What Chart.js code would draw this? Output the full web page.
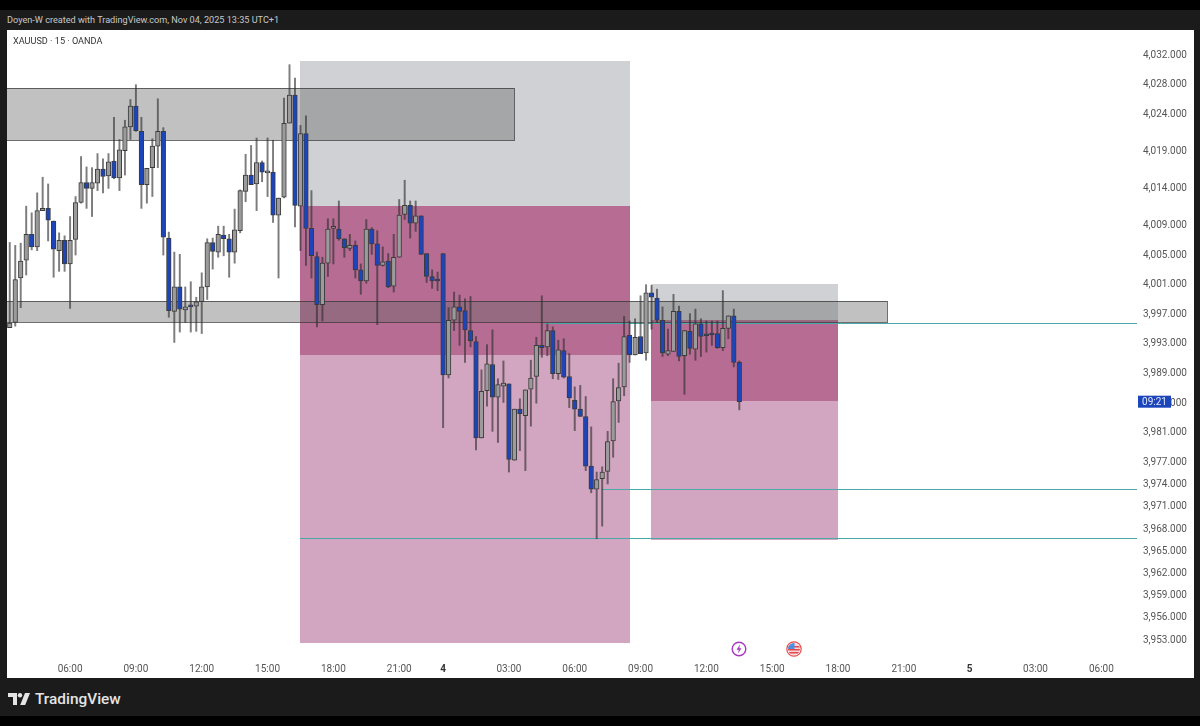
<!DOCTYPE html>
<html>
<head>
<meta charset="utf-8">
<title>XAUUSD 15</title>
<script src="https://cdn.jsdelivr.net/npm/chart.js@4/dist/chart.umd.min.js"></script>
<style>
  html, body { margin: 0; padding: 0; width: 1200px; height: 726px; overflow: hidden; background: #1b1b1b; font-family: Roboto, "Noto Sans", sans-serif; }
  #topstrip { position: absolute; left: 0; top: 0; width: 1200px; height: 10px; background: #000; }
  #bottomstrip { position: absolute; left: 0; top: 716px; width: 1200px; height: 10px; background: #000; }
  #credit { position: absolute; left: 7px; top: 14px; font-size: 9.15px; line-height: 13px; color: #c8c8c8; white-space: nowrap; }
  #pane { position: absolute; left: 7px; top: 30px; width: 1187px; height: 648px; background: #fff; overflow: hidden; }
  #chart { position: absolute; left: 0; top: -11px; }
  #symbol { position: absolute; left: 13px; top: 35px; font-size: 9.15px; line-height: 13px; color: #333; white-space: nowrap; }
  #brand { position: absolute; left: 35px; top: 689px; font-size: 15.4px; line-height: 20px; font-weight: 500; color: #e4e4e4; white-space: nowrap; }
  #logo { position: absolute; left: 8px; top: 692px; }
  .marker { position: absolute; top: 641px; }
</style>
</head>
<body>
<div id="topstrip"></div>
<div id="bottomstrip"></div>
<div id="credit">Doyen-W created with TradingView.com, Nov 04, 2025 13:35 UTC+1</div>
<div id="pane"><canvas id="chart" width="1187" height="659"></canvas></div>
<div id="symbol">XAUUSD · 15 · OANDA</div>
<svg id="logo" width="22" height="14" viewBox="0 0 22 14">
  <path d="M0 1h9v12H5V5H0z" fill="#e4e4e4"/>
  <circle cx="12" cy="3.2" r="2.2" fill="#e4e4e4"/>
  <path d="M17 1h5l-4.8 12h-5z" fill="#e4e4e4"/>
</svg>
<div id="brand">TradingView</div>
<svg class="marker" style="left:731px" width="16" height="16" viewBox="0 0 16 16">
  <circle cx="8" cy="8" r="6.8" fill="#fff" stroke="#a63bc0" stroke-width="1.4"/>
  <path d="M9 3.5 5.5 8.8h2.2L7 12.5l3.5-5.3H8.3z" fill="#a63bc0"/>
</svg>
<svg class="marker" style="left:786px" width="16" height="16" viewBox="0 0 16 16">
  <clipPath id="flagclip"><circle cx="8" cy="8" r="6"/></clipPath>
  <circle cx="8" cy="8" r="7.2" fill="#fff" stroke="#e5484d" stroke-width="1.2"/>
  <g clip-path="url(#flagclip)">
    <rect x="0" y="2" width="16" height="12" fill="#f7d5d6"/>
    <rect x="0" y="5" width="16" height="1.5" fill="#e5484d"/>
    <rect x="0" y="8" width="16" height="1.5" fill="#e5484d"/>
    <rect x="0" y="11" width="16" height="1.5" fill="#e5484d"/>
    <rect x="2" y="2" width="6.5" height="6" fill="#4c8fe0"/>
  </g>
</svg>
<script>
const opens = [3995.2,3995.9,4001.9,4004.3,4007.8,4006.1,4011.0,4011.3,4009.6,4005.6,4007.0,4003.8,4007.1,4012.1,4014.8,4014.0,4014.7,4016.6,4015.7,4017.7,
  4015.4,4019.1,4022.3,4025.1,4021.7,4014.5,4016.8,4019.7,4021.7,4007.3,3997.4,4000.7,3997.6,3998.1,3998.1,3998.7,4000.7,4006.7,4005.4,4007.7,
  4007.2,4005.4,4008.3,4013.6,4015.8,4014.6,4017.5,4016.1,4016.2,4010.4,4012.8,4022.8,4026.6,4011.6,4021.4,4008.6,4004.8,3998.3,4003.9,4008.6,
  4008.5,4007.2,4005.9,4006.3,4003.0,4001.5,4008.5,4006.5,4003.6,4004.2,4000.8,4004.7,4010.5,4011.7,4009.3,4010.3,4005.2,4002.1,4001.6,4005.2,
  3988.8,3996.2,3998.0,3997.5,3994.8,3993.3,3980.3,3986.7,3990.2,3985.8,3987.3,3987.6,3977.3,3984.2,3983.3,3986.9,3988.6,3992.8,3992.6,3994.8,
  3989.0,3992.1,3988.6,3985.4,3984.2,3983.2,3976.5,3973.4,3974.8,3975.8,3979.9,3985.3,3987.2,3994.2,3991.5,3994.0,3991.8,3999.9,3999.2,3996.2,
  3991.6,3992.0,3997.4,3991.4,3994.7,3992.3,3995.7,3994.3,3994.3,3994.4,3992.5,3995.1,3996.8,3990.5];
const closes = [3995.8,4001.7,4004.2,4007.8,4006.1,4011.0,4011.3,4009.7,4005.8,4007.0,4003.8,4007.0,4012.1,4014.8,4014.0,4014.8,4016.6,4015.6,4017.6,4015.4,
  4019.2,4022.3,4025.1,4021.8,4014.5,4016.7,4019.7,4021.7,4007.4,3997.5,4000.7,3997.7,3998.0,3998.0,3998.7,4000.7,4006.7,4005.5,4007.8,4007.2,
  4005.4,4008.4,4013.7,4015.8,4014.5,4017.5,4016.2,4016.2,4010.4,4012.7,4022.8,4026.6,4011.7,4021.4,4008.6,4004.9,3998.3,4003.9,4008.5,4008.7,
  4007.2,4006.0,4006.3,4003.0,4001.5,4008.5,4006.5,4003.6,4004.1,4000.7,4004.7,4010.4,4011.7,4009.3,4010.3,4005.1,4002.1,4001.5,4001.5,3988.8,
  3996.2,3998.0,3997.4,3994.9,3993.4,3980.3,3986.6,3990.3,3985.8,3987.5,3987.7,3977.4,3984.2,3983.6,3986.8,3988.4,3992.8,3992.5,3994.8,3989.0,
  3992.2,3988.5,3985.7,3984.2,3983.2,3976.5,3973.4,3974.7,3975.7,3979.8,3985.2,3987.1,3994.0,3991.5,3993.9,3991.7,3999.9,3999.3,3996.2,3991.8,
  3992.1,3997.4,3991.3,3994.8,3992.4,3995.7,3994.0,3994.1,3994.2,3992.5,3995.1,3996.8,3990.5,3985.2];
const highs = [4006.7,4006.3,4006.6,4011.6,4010.7,4013.4,4015.5,4014.6,4009.6,4008.0,4007.6,4010.2,4012.9,4018.3,4016.9,4016.8,4018.7,4018.0,4018.7,4023.6,
  4020.6,4023.2,4026.0,4028.0,4023.6,4016.7,4020.7,4026.1,4022.2,4008.1,4005.4,4005.1,4000.7,4001.4,3999.3,4002.6,4007.2,4007.3,4008.9,4008.9,
  4007.8,4011.2,4013.8,4018.6,4019.8,4020.8,4017.7,4020.8,4020.5,4012.7,4026.2,4030.7,4028.9,4022.5,4023.8,4013.7,4005.4,4004.7,4009.9,4009.9,
  4012.3,4007.2,4007.8,4006.9,4003.8,4009.8,4008.7,4008.3,4006.1,4005.2,4007.8,4012.5,4015.1,4012.3,4012.3,4010.3,4005.2,4003.0,4002.7,4005.2,
  3997.9,4000.0,3999.6,3999.1,3999.4,3994.0,3989.5,3992.9,3994.9,3988.3,3990.7,3987.6,3984.2,3985.6,3986.8,3990.8,3993.9,3999.5,3995.7,3995.3,
  3993.5,3993.7,3991.7,3987.2,3987.4,3985.9,3981.8,3975.7,3976.4,3981.2,3988.3,3990.4,3996.7,3996.1,3996.4,3999.5,4001.0,4000.9,4000.4,3998.0,
  3995.0,3999.7,3998.1,3994.8,3997.1,3997.7,3996.4,3996.1,3996.1,3996.1,4000.2,3996.8,3997.7,3990.7];
const lows = [3995.2,3995.4,3997.9,4002.3,4005.7,4005.6,4011.0,4006.9,4002.0,4002.8,4002.8,3997.8,4005.0,4012.0,4011.3,4010.2,4013.7,4013.4,4014.0,4015.3,
  4013.7,4015.8,4020.6,4021.7,4011.3,4012.0,4012.9,4016.8,4005.0,3996.6,3993.2,3994.6,3995.9,3994.6,3994.7,3994.4,3999.0,4003.1,4004.7,4004.9,
  4002.0,4003.9,4008.0,4012.2,4014.5,4011.0,4014.9,4012.9,4009.4,4001.9,4012.7,4022.8,4008.8,4005.6,4003.6,4001.9,3995.3,3996.1,4002.1,4003.8,
  4007.0,4004.7,4005.6,4001.9,3999.7,4001.2,4005.1,3995.6,4003.5,4000.6,4000.0,4004.7,4009.8,4007.3,4008.2,4005.1,4001.3,4000.5,4000.2,3981.7,
  3988.4,3994.8,3992.8,3990.5,3992.6,3978.7,3980.3,3984.6,3981.2,3979.7,3985.1,3975.7,3977.3,3978.6,3975.9,3981.9,3985.0,3991.2,3991.4,3988.3,
  3988.2,3988.4,3984.4,3981.3,3983.2,3975.9,3972.9,3966.7,3968.4,3974.1,3977.7,3982.4,3986.0,3990.5,3991.5,3991.7,3990.8,3995.0,3995.9,3991.3,
  3991.4,3992.0,3990.7,3986.2,3991.6,3990.8,3991.3,3991.9,3992.8,3992.4,3992.1,3993.7,3989.9,3984.1];

const priceTicks = [4032,4028,4024,4019,4014,4009,4005,4001,3997,3993,3989,3985,3981,3977,3974,3971,3968,3965,3962,3959,3956,3953];
const timeSlots = [11,23,35,47,59,71,79,91,103,115,127,139,151,163,175,187,199];
const timeLabels = ['06:00','09:00','12:00','15:00','18:00','21:00','4','03:00','06:00','09:00','12:00','15:00','18:00','21:00','5','03:00','06:00'];

// zones: first bar, last bar, upper price, lower price
const stopZones = [[52.9,113.1,4031.2,4011.6],[116.9,151.0,4001.1,3996.2]];
const entryZones = [[52.9,113.1,4011.6,3991.5],[116.9,151.0,3996.2,3985.3]];
const targetZones = [[52.9,113.1,3991.5,3952.6],[116.9,151.0,3985.3,3966.6]];
const supplyBoxes = [[-1,91.95,4027.5,4020.5],[-1,160,3998.85,3996.0]];
// levels: first bar, price
const levelLines = [[97.5,3995.85],[107.9,3973.4],[52.9,3966.8]];
const countdownText = '09:21';

const BAR_SLOTS = 206;
const COLORS = {
  up: '#9b9b9b',
  down: '#1c45ba',
  border: '#3c3c3c',
  wick: 'rgba(45,45,45,0.62)',
  stop: '#d0d1d5',
  entry: '#b66c93',
  target: '#d2a5c0',
  box: 'rgba(105,105,105,0.41)',
  boxLine: 'rgba(50,50,50,0.7)',
  level: '#4aa8a8',
  axisText: '#555'
};

document.addEventListener('DOMContentLoaded', () => {
  const slots = Array.from({ length: BAR_SLOTS }, (_, i) => String(i));

  const zonesPlugin = {
    id: 'zones',
    beforeDatasetsDraw(chart) {
      const { ctx, chartArea, scales: { x, y } } = chart;

      function rect(zone) {
        const left = x.getPixelForValue(zone[0]);
        const right = x.getPixelForValue(zone[1]);
        const top = y.getPixelForValue(zone[2]);
        const bottom = y.getPixelForValue(zone[3]);
        return [Math.round(left), Math.round(top), Math.round(right - left), Math.round(bottom - top)];
      }

      ctx.save();
      ctx.beginPath();
      ctx.rect(chartArea.left, chartArea.top, chartArea.right - chartArea.left, chartArea.bottom - chartArea.top);
      ctx.clip();

      ctx.fillStyle = COLORS.stop;
      stopZones.forEach((z) => ctx.fillRect(...rect(z)));
      ctx.fillStyle = COLORS.entry;
      entryZones.forEach((z) => ctx.fillRect(...rect(z)));
      ctx.fillStyle = COLORS.target;
      targetZones.forEach((z) => ctx.fillRect(...rect(z)));

      ctx.fillStyle = COLORS.box;
      ctx.strokeStyle = COLORS.boxLine;
      ctx.lineWidth = 1;
      supplyBoxes.forEach((z) => {
        const [l, t, w, h] = rect(z);
        ctx.fillRect(l, t, w, h);
        ctx.strokeRect(l + 0.5, t + 0.5, w, h);
      });

      ctx.strokeStyle = COLORS.level;
      levelLines.forEach((l) => {
        const py = Math.round(y.getPixelForValue(l[1])) + 0.5;
        ctx.beginPath();
        ctx.moveTo(x.getPixelForValue(l[0]), py);
        ctx.lineTo(chartArea.right, py);
        ctx.stroke();
      });
      ctx.restore();
    }
  };

  const countdownPlugin = {
    id: 'countdown',
    afterDraw(chart) {
      const { ctx, chartArea, scales: { y } } = chart;
      const py = y.getPixelForValue(closes[closes.length - 1]);
      ctx.save();
      ctx.fillStyle = '#1c45ba';
      ctx.fillRect(chartArea.right + 1, py - 6, 33, 12);
      ctx.fillStyle = '#dfe6fb';
      ctx.font = '10px Roboto, "Noto Sans", sans-serif';
      ctx.textAlign = 'center';
      ctx.textBaseline = 'middle';
      ctx.fillText(countdownText, chartArea.right + 17.5, py + 0.5);
      ctx.restore();
    }
  };

  new Chart(document.getElementById('chart'), {
    data: {
      labels: slots,
      datasets: [
        {
          type: 'bar',
          label: 'body',
          order: 1,
          grouped: false,
          data: opens.map((open, i) => [open, closes[i]]),
          backgroundColor: opens.map((open, i) => (closes[i] >= open ? COLORS.up : COLORS.down)),
          borderColor: COLORS.border,
          borderWidth: 1,
          borderSkipped: false,
          barThickness: 4.6,
          minBarLength: 2
        },
        {
          type: 'bar',
          label: 'wick',
          order: 2,
          grouped: false,
          data: lows.map((low, i) => [low, highs[i]]),
          backgroundColor: COLORS.wick,
          borderWidth: 0,
          barThickness: 1.3
        }
      ]
    },
    options: {
      responsive: false,
      animation: false,
      layout: { padding: 0, autoPadding: false },
      plugins: { legend: { display: false }, tooltip: { enabled: false } },
      scales: {
        x: {
          type: 'category',
          offset: true,
          grid: { display: false, drawTicks: false },
          border: { display: false },
          afterFit: (scale) => { scale.height = 23; },
          afterBuildTicks: (scale) => {
            scale.ticks = timeSlots.map((value) => ({ value }));
          },
          ticks: {
            autoSkip: false,
            maxRotation: 0,
            padding: 8,
            color: (ctx) => (timeLabels[ctx.index] && timeLabels[ctx.index].length === 1 ? '#333' : COLORS.axisText),
            font: (ctx) => ({
              family: 'Roboto, "Noto Sans", sans-serif',
              size: 10,
              weight: timeLabels[ctx.index] && timeLabels[ctx.index].length === 1 ? 'bold' : 'normal'
            }),
            callback: (value, index) => timeLabels[index]
          }
        },
        y: {
          type: 'linear',
          position: 'right',
          min: 3951,
          max: 4035.25,
          grid: { display: false, drawTicks: false },
          border: { display: false },
          afterFit: (scale) => { scale.width = 57; },
          afterBuildTicks: (scale) => {
            scale.ticks = priceTicks.map((value) => ({ value }));
          },
          ticks: {
            autoSkip: false,
            padding: 6,
            color: COLORS.axisText,
            font: { family: 'Roboto, "Noto Sans", sans-serif', size: 10 },
            callback: (value) => value.toLocaleString('en-US', { minimumFractionDigits: 3 })
          }
        }
      }
    },
    plugins: [zonesPlugin, countdownPlugin]
  });
});
</script>
</body>
</html>
